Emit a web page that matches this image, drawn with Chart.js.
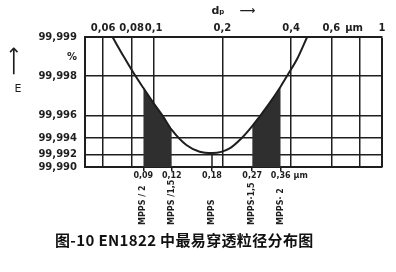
<!DOCTYPE html>
<html>
<head>
<meta charset="utf-8">
<script src="https://cdn.jsdelivr.net/npm/chart.js@4.4.0/dist/chart.umd.min.js"></script>
<style>
  html, body { margin: 0; padding: 0; background: #fff; }
  #wrap { position: relative; width: 396px; height: 272px; }
  #caption { position: absolute; left: 55px; top: 229px; font: bold 15px "Noto Sans CJK SC"; letter-spacing: 0.35px; color: #111; white-space: nowrap; }
</style>
</head>
<body>
<div id="wrap">
  <canvas id="chart" width="396" height="232"></canvas>
  <div id="caption">图-10 EN1822 中最易穿透粒径分布图</div>
</div>
<script>
// particle size (µm) and filter efficiency (%)
const sizes = [0.066, 0.074, 0.081, 0.09, 0.1, 0.11, 0.12, 0.139, 0.159, 0.181, 0.215, 0.246, 0.27, 0.321, 0.36, 0.386, 0.427, 0.47];
const efficiency = [99.999, 99.99858, 99.99815, 99.99754, 99.99676, 99.9959, 99.99481, 99.99322, 99.99237, 99.9922, 99.99282, 99.99415, 99.99515, 99.99676, 99.9976, 99.99804, 99.99855, 99.999];

const mpps = 0.18;
const mppsMarks = [0.09, 0.12, 0.18, 0.27, 0.36];
const mppsNames = ["MPPS / 2", "MPPS /1,5", "MPPS", "MPPS·1,5", "MPPS· 2"];
const shadedBands = [[0.09, 0.12], [0.27, 0.36]];

const topTicks = [0.06, 0.08, 0.1, 0.2, 0.4, 0.6, 0.8, 1];
const topLabels = ["0,06", "0,08", "0,1", "0,2", "0,4", "0,6", "", "1"];
const effTicks = [99.999, 99.998, 99.996, 99.994, 99.992, 99.990];

// where the unit labels sit on their axes
const topUnitAt = 0.755;
const bottomUnitAt = 0.44;
const percentAt = 99.99857;

const ink = "#1e1e1e";
const tickFont = { family: "DejaVu Sans", size: 10, weight: "bold" };

// the y axis is log of penetration (100 - E), top = 99,999
function pen(e) { return +(100 - e).toFixed(6); }

const curve = sizes.map((s, i) => ({ x: s, y: pen(efficiency[i]) }));
const minEff = Math.min(...efficiency);

const datasets = [{
    data: curve,
    borderColor: ink,
    borderWidth: 2,
    pointRadius: 0,
    cubicInterpolationMode: "monotone",
    fill: false
}];

shadedBands.forEach(band => {
    datasets.push({
        data: curve.filter(p => p.x >= band[0] && p.x <= band[1]),
        borderColor: ink,
        borderWidth: 1,
        backgroundColor: "#2f2f2f",
        pointRadius: 0,
        cubicInterpolationMode: "monotone",
        fill: "start"
    });
});

datasets.push({
    data: [{ x: mpps, y: pen(minEff) }, { x: mpps, y: pen(effTicks[effTicks.length - 1]) }],
    borderColor: ink,
    borderWidth: 1.5,
    pointRadius: 0,
    fill: false
});

const sideLabels = {
    id: "sideLabels",
    afterDraw(chart) {
        const ctx = chart.ctx;
        const x2 = chart.scales.x2;
        const area = chart.chartArea;
        ctx.save();
        ctx.fillStyle = ink;
        ctx.font = 'bold 8px "DejaVu Sans"';
        ctx.textAlign = "left";
        ctx.textBaseline = "middle";
        mppsNames.forEach((name, i) => {
            ctx.save();
            ctx.translate(x2.getPixelForValue(mppsMarks[i]), area.bottom + 58);
            ctx.rotate(-Math.PI / 2);
            ctx.fillText(name, 0, 0);
            ctx.restore();
        });
        // "E" with an arrow pointing up
        ctx.textAlign = "center";
        ctx.font = '11px "DejaVu Sans"';
        ctx.fillText("E", 18, area.top + 52);
        ctx.translate(15, area.top + 24);
        ctx.rotate(-Math.PI / 2);
        ctx.font = '20px "DejaVu Sans"';
        ctx.fillText("⟶", 0, 0);
        ctx.restore();
    }
};

new Chart(document.getElementById("chart"), {
    type: "line",
    data: { datasets: datasets },
    plugins: [sideLabels],
    options: {
        responsive: false,
        animation: false,
        layout: { padding: { left: 0, right: 14, top: 0, bottom: 0 } },
        plugins: { legend: { display: false }, tooltip: { enabled: false } },
        scales: {
            x: {
                type: "logarithmic",
                position: "top",
                min: 0.05,
                max: 1,
                afterBuildTicks: s => { s.ticks = topTicks.concat([topUnitAt]).map(v => ({ value: v })); },
                afterFit: s => { s.height = 37; },
                ticks: {
                    autoSkip: false,
                    maxRotation: 0,
                    padding: 3,
                    color: ink,
                    font: tickFont,
                    callback: v => v === topUnitAt ? "µm" : topLabels[topTicks.indexOf(v)]
                },
                grid: {
                    drawTicks: false,
                    color: c => c.tick && c.tick.value === topUnitAt ? "rgba(0,0,0,0)" : ink,
                    lineWidth: c => c.tick && c.tick.value === 1 ? 2 : 1.5
                },
                border: { color: ink, width: 2 },
                title: {
                    display: true,
                    text: "dₚ    ⟶",
                    color: ink,
                    font: { family: "DejaVu Sans", size: 11, weight: "bold" },
                    padding: { top: 5, bottom: 0 }
                }
            },
            x2: {
                type: "logarithmic",
                position: "bottom",
                min: 0.05,
                max: 1,
                afterBuildTicks: s => { s.ticks = mppsMarks.concat([bottomUnitAt]).map(v => ({ value: v })); },
                afterFit: s => { s.height = 65; },
                ticks: {
                    autoSkip: false,
                    maxRotation: 0,
                    padding: 0,
                    color: ink,
                    font: { family: "DejaVu Sans", size: 8, weight: "bold" },
                    callback: v => v === bottomUnitAt ? "µm" : v.toFixed(2).replace(".", ",")
                },
                grid: {
                    drawOnChartArea: false,
                    tickLength: 4,
                    color: c => c.tick && c.tick.value === bottomUnitAt ? "rgba(0,0,0,0)" : ink,
                    lineWidth: 1.5
                },
                border: { color: ink, width: 2 }
            },
            y: {
                type: "logarithmic",
                reverse: true,
                min: pen(effTicks[0]),
                max: pen(effTicks[effTicks.length - 1]),
                afterBuildTicks: s => { s.ticks = effTicks.concat([percentAt]).map(e => ({ value: pen(e) })); },
                afterFit: s => { s.width = 85; },
                ticks: {
                    padding: 8,
                    color: ink,
                    font: tickFont,
                    callback: v => v === pen(percentAt) ? "%" : (100 - v).toFixed(3).replace(".", ",")
                },
                grid: {
                    drawTicks: false,
                    color: c => c.tick && c.tick.value === pen(percentAt) ? "rgba(0,0,0,0)" : ink,
                    lineWidth: 1.5
                },
                border: { color: ink, width: 2 }
            }
        }
    }
});
</script>
</body>
</html>
